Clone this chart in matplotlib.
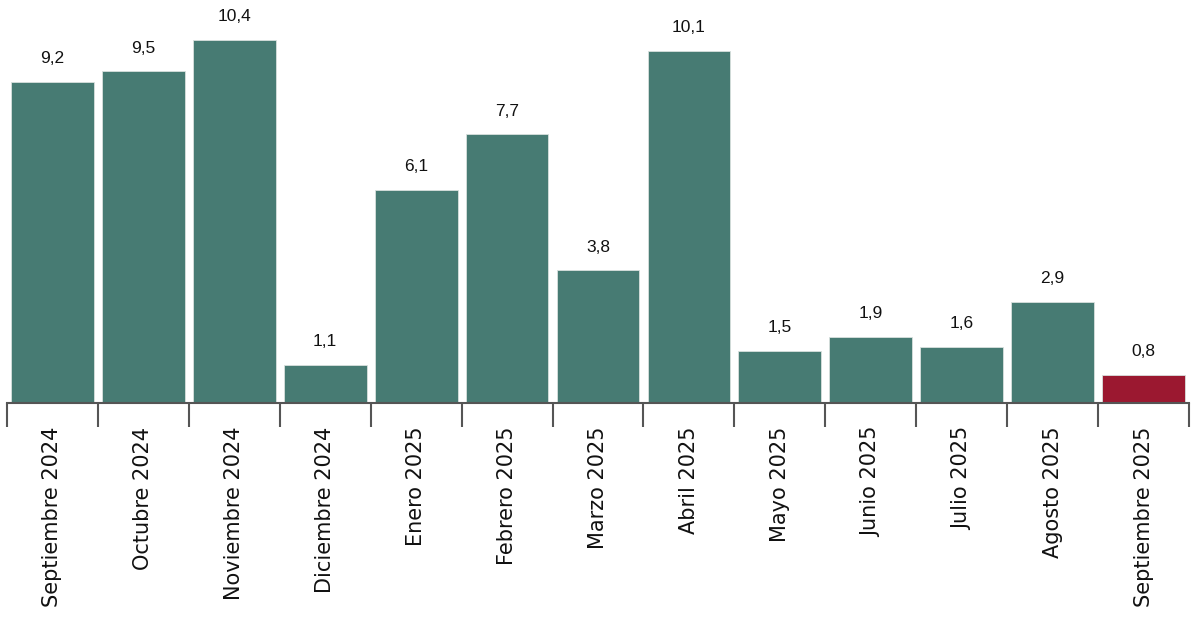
import matplotlib
matplotlib.use("Agg")
import matplotlib.pyplot as plt
import numpy as np

meses = ["Septiembre 2024", "Octubre 2024", "Noviembre 2024", "Diciembre 2024",
         "Enero 2025", "Febrero 2025", "Marzo 2025", "Abril 2025", "Mayo 2025",
         "Junio 2025", "Julio 2025", "Agosto 2025", "Septiembre 2025"]
valores = [9.2, 9.5, 10.4, 1.1, 6.1, 7.7, 3.8, 10.1, 1.5, 1.9, 1.6, 2.9, 0.8]
etiquetas = ["9,2", "9,5", "10,4", "1,1", "6,1", "7,7", "3,8", "10,1", "1,5",
             "1,9", "1,6", "2,9", "0,8"]

verde = "#477b73"
rojo = "#9b1830"
colores = [verde] * (len(valores) - 1) + [rojo]

fig = plt.figure(figsize=(12, 6.32), dpi=100)
ax = fig.add_axes([7 / 1200, 229 / 632, 1182 / 1200, 403 / 632])

x = np.arange(len(valores))
ax.bar(x, valores, width=0.91, color=colores, edgecolor="#d8e0de", linewidth=0.6, zorder=2)

for xi, v, t in zip(x, valores, etiquetas):
    ax.text(xi, v + 0.45, t, ha="center", va="bottom", fontsize=12.5,
            family=["Liberation Sans", "DejaVu Sans"], color="#111111")

ax.set_xlim(-0.5, len(valores) - 0.5)
ax.set_ylim(0, 403 / 34.9)

ax.set_yticks([])
for s in ["left", "right", "top"]:
    ax.spines[s].set_visible(False)
ax.spines["bottom"].set_color("#555555")
ax.spines["bottom"].set_linewidth(1.5)

# ticks at category boundaries, labels at centers
ax.set_xticks(np.arange(len(valores) + 1) - 0.5)
ax.set_xticklabels([])
ax.tick_params(axis="x", which="major", length=17, width=1.5, color="#555555")
ax.set_xticks(x, minor=True)
ax.set_xticklabels(meses, minor=True, rotation=90, fontsize=15,
                   family=["DejaVu Sans"], color="#111111")
ax.tick_params(axis="x", which="minor", length=0, pad=17)

fig.savefig("out.png", dpi=100)
